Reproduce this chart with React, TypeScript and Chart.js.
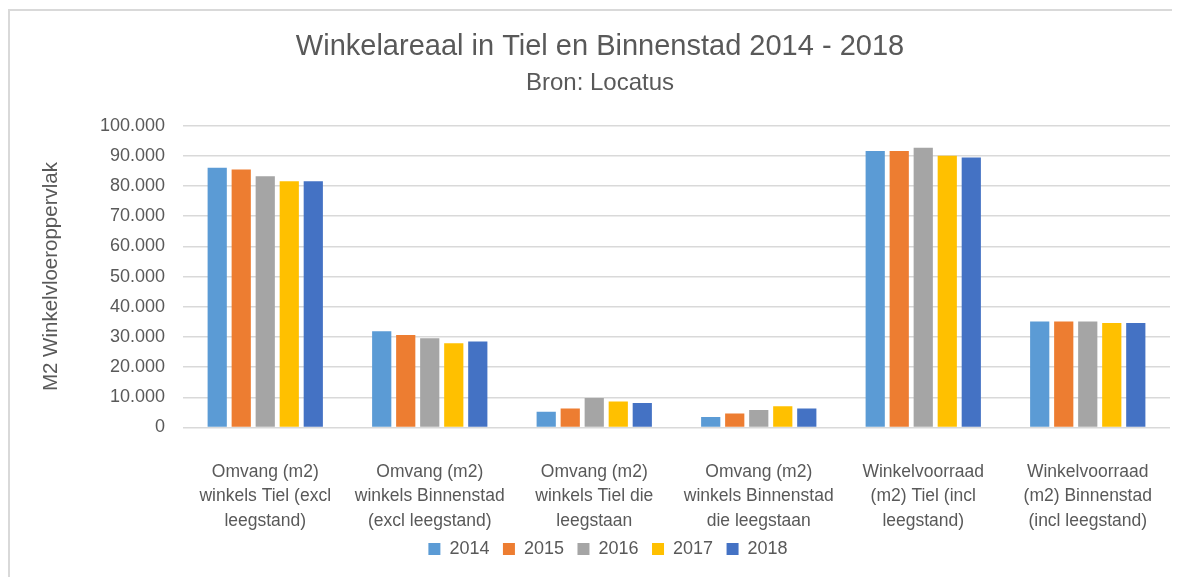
import React, { useEffect, useRef } from "react";
import { Chart, registerables } from "chart.js";

Chart.register(...registerables);

const categories: string[][] = [
  ["Omvang (m2)", "winkels Tiel (excl", "leegstand)"],
  ["Omvang (m2)", "winkels Binnenstad", "(excl leegstand)"],
  ["Omvang (m2)", "winkels Tiel die", "leegstaan"],
  ["Omvang (m2)", "winkels Binnenstad", "die leegstaan"],
  ["Winkelvoorraad", "(m2) Tiel (incl", "leegstand)"],
  ["Winkelvoorraad", "(m2) Binnenstad", "(incl leegstand)"],
];

const years = ["2014", "2015", "2016", "2017", "2018"];
const colors = ["#5B9BD5", "#ED7D31", "#A5A5A5", "#FFC000", "#4472C4"];

const values2014 = [86000, 31900, 5200, 3500, 91600, 35100];
const values2015 = [85500, 30600, 6300, 4600, 91600, 35100];
const values2016 = [83200, 29600, 9800, 5800, 92700, 35100];
const values2017 = [81600, 27900, 8600, 7000, 90000, 34600];
const values2018 = [81600, 28500, 8100, 6300, 89400, 34600];

const seriesValues = [values2014, values2015, values2016, values2017, values2018];

const title = "Winkelareaal in Tiel en Binnenstad 2014 - 2018";
const subtitle = "Bron: Locatus";
const yAxisTitle = "M2 Winkelvloeroppervlak";

const FONT = "'Liberation Sans', Arial, sans-serif";
const TEXT = "#595959";

const W = 1164;
const H = 569;

const shiftBoxes = {
  id: "shiftBoxes",
  afterLayout(chart: any) {
    const lg = chart.legend;
    if (lg) {
      lg.left += 19;
      lg.right += 19;
    }
    (chart.boxes || []).forEach((b: any) => {
      if (b && b.options && (b === chart.titleBlock || b.constructor?.name === "Title")) {
        b.left += 11;
        b.right += 11;
      }
    });
  },
};

export default function App() {
  const canvasRef = useRef<HTMLCanvasElement | null>(null);

  useEffect(() => {
    if (!canvasRef.current) return;
    const chart = new Chart(canvasRef.current, {
      type: "bar",
      data: {
        labels: categories,
        datasets: years.map((y, i) => ({
          label: y,
          data: seriesValues[i],
          backgroundColor: colors[i],
          borderWidth: 0,
          categoryPercentage: 0.73,
          barPercentage: 0.8,
        })),
      },
      plugins: [shiftBoxes],
      options: {
        responsive: false,
        animation: false,
        layout: { padding: { left: 0, right: 2, top: 0, bottom: 9 } },
        plugins: {
          title: {
            display: true,
            text: title,
            color: TEXT,
            font: { family: FONT, size: 29, weight: "normal" },
            padding: { top: 22, bottom: 0 },
          },
          subtitle: {
            display: true,
            text: subtitle,
            color: TEXT,
            font: { family: FONT, size: 24, weight: "normal" },
            padding: { top: 4, bottom: 28 },
          },
          legend: {
            position: "bottom",
            labels: {
              color: TEXT,
              font: { family: FONT, size: 18 },
              boxWidth: 12,
              boxHeight: 12,
              padding: 13.5,
            },
          },
          tooltip: { enabled: false },
        },
        scales: {
          x: {
            grid: { display: false, drawTicks: false },
            border: { display: false },
            ticks: {
              color: TEXT,
              font: { family: FONT, size: 17.5, lineHeight: 1.4 },
              padding: 32,
              maxRotation: 0,
              autoSkip: false,
            },
            afterFit: (scale: any) => {
              scale.height = 99;
              scale.paddingLeft = 0;
              scale.paddingRight = 0;
              scale._computeLabelArea = () => undefined;
            },
          },
          y: {
            min: 0,
            max: 100000,
            grid: { color: "#D9D9D9", lineWidth: 1.5, drawTicks: false },
            border: { display: false },
            ticks: {
              stepSize: 10000,
              color: TEXT,
              font: { family: FONT, size: 18 },
              padding: 18,
              callback: (v: any) =>
                Number(v) === 0 ? "0" : Number(v).toLocaleString("de-DE"),
            },
            title: {
              display: true,
              text: yAxisTitle,
              color: TEXT,
              font: { family: FONT, size: 20.5 },
              padding: { top: 31, bottom: 0 },
            },
            afterFit: (scale: any) => {
              scale.width = 175;
            },
          },
        },
      },
    });
    return () => chart.destroy();
  }, []);

  return (
    <>
      <style>{`html{overflow:hidden;background:#fff}`}</style>
      <div
        style={{
          position: "relative",
          width: W,
          height: H,
          background: "#fff",
        }}
      >
        <canvas
          ref={canvasRef}
          width={W}
          height={H}
          style={{ position: "absolute", left: 0, top: 0, width: W, height: H }}
        />
        <div
          style={{
            position: "absolute",
            left: 0,
            top: 1,
            width: W,
            height: H - 1,
            borderTop: "2px solid #D9D9D9",
            borderLeft: "2px solid #D9D9D9",
            boxSizing: "border-box",
            pointerEvents: "none",
          }}
        />
      </div>
    </>
  );
}
